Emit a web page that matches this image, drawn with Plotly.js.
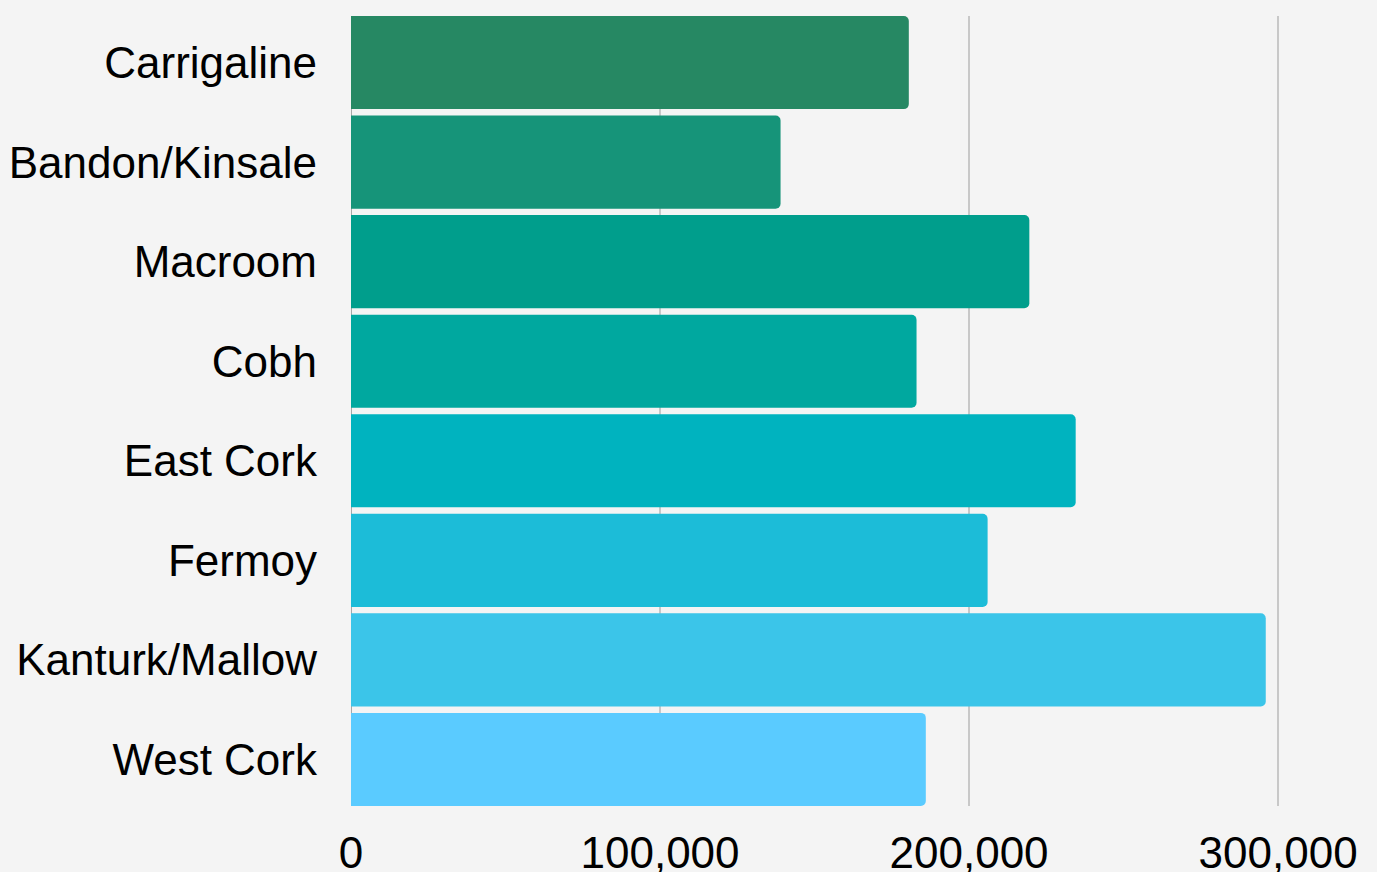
<!DOCTYPE html>
<html>
<head>
<meta charset="utf-8">
<script src="https://cdn.plot.ly/plotly-3.0.1.min.js"></script>
<style>
html,body{margin:0;padding:0;background:#f4f4f4;}
#chart{width:1377px;height:872px;}
</style>
</head>
<body>
<div id="chart"></div>
<script>
const categories = ["Carrigaline","Bandon/Kinsale","Macroom","Cobh","East Cork","Fermoy","Kanturk/Mallow","West Cork"];
const values = [180500, 139000, 219500, 183000, 234500, 206000, 296000, 186000];
const barColors = ["#268863","#169479","#009e8c","#00a89f","#00b3bf","#1cbcd8","#3bc5e9","#5acbff"];
const tickValues = [0, 100000, 200000, 300000];
const tickLabels = ["0","100,000","200,000","300,000"];

const fontFamily = "Liberation Sans, Arial, sans-serif";
const gap = 0.065;

Plotly.newPlot("chart", [{
  type: "bar",
  orientation: "h",
  y: categories,
  x: values,
  marker: {color: barColors, line: {width: 0}},
  hoverinfo: "none"
}], {
  width: 1377,
  height: 872,
  paper_bgcolor: "#f4f4f4",
  plot_bgcolor: "#f4f4f4",
  margin: {l: 351, r: 0, t: 16, b: 66},
  bargap: gap,
  barcornerradius: 5,
  showlegend: false,
  font: {family: fontFamily, color: "#000000", size: 44},
  xaxis: {
    range: [0, 332000],
    tickvals: tickValues,
    ticktext: tickLabels,
    showgrid: true,
    gridcolor: "#c8c8c8",
    gridwidth: 1.5,
    zeroline: true,
    zerolinecolor: "#a8a8a8",
    zerolinewidth: 1,
    showline: false,
    ticks: "",
    ticklabelstandoff: 17,
    tickfont: {family: fontFamily, size: 44, color: "#000000"},
    fixedrange: true
  },
  yaxis: {
    range: [categories.length - 0.5 - gap / 2, -0.5 + gap / 2],
    showgrid: false,
    zeroline: false,
    showline: false,
    ticks: "",
    ticklabelstandoff: 33,
    tickfont: {family: fontFamily, size: 44, color: "#000000"},
    fixedrange: true
  }
}, {displayModeBar: false, staticPlot: true});
</script>
</body>
</html>
